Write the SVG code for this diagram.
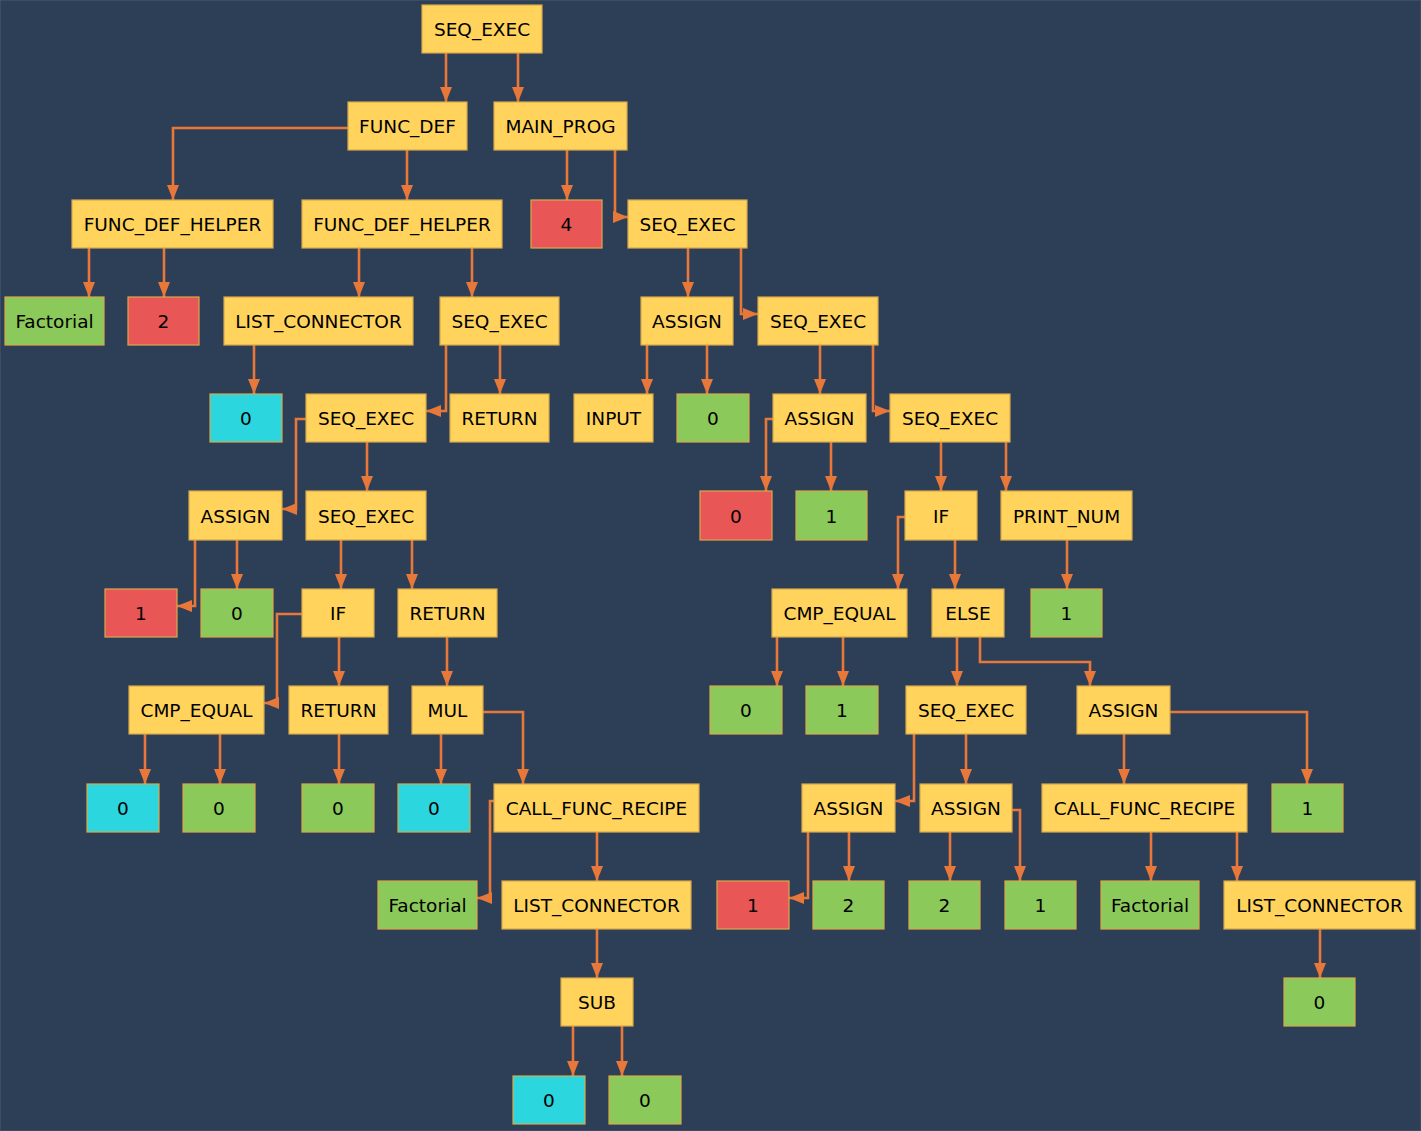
<svg xmlns="http://www.w3.org/2000/svg" width="1421" height="1131" viewBox="0 0 1421 1131">
<style>
.n rect{stroke:#d9a94a;stroke-width:1.2}
.y rect{fill:#ffd35c}
.g rect{fill:#8bc95a}
.r rect{fill:#e85656}
.c rect{fill:#2bd6de}
text{font-family:"DejaVu Sans","Liberation Sans",sans-serif;font-size:18.5px;fill:#000;text-anchor:middle;dominant-baseline:central}
#edges path{fill:none;stroke:#e8773a;stroke-width:2.6;marker-end:url(#ah)}
</style>
<defs>
<marker id="ah" markerUnits="userSpaceOnUse" markerWidth="15" markerHeight="13" viewBox="0 0 15 13" refX="15" refY="6.5" orient="auto">
<path d="M0,0.5 L15,6.5 L0,12.5 z" fill="#e8773a"/>
</marker>
</defs>
<rect x="0" y="0" width="1421" height="1131" fill="#2d3e57" stroke="#4a5a70" stroke-width="1"/>
<g id="edges">
<path d="M446,53 V102"/>
<path d="M518,53 V102"/>
<path d="M348,128 H173 V200"/>
<path d="M407,150 V200"/>
<path d="M567,150 V200"/>
<path d="M615,150 V217 H628"/>
<path d="M89,248 V297"/>
<path d="M164,248 V297"/>
<path d="M359,248 V297"/>
<path d="M472,248 V297"/>
<path d="M688,248 V297"/>
<path d="M741,248 V314 H758"/>
<path d="M254,345 V394"/>
<path d="M446,345 V411 H426"/>
<path d="M500,345 V394"/>
<path d="M647,345 V394"/>
<path d="M707,345 V394"/>
<path d="M820,345 V394"/>
<path d="M873,345 V411 H890"/>
<path d="M306,419 H296 V509 H282"/>
<path d="M367,442 V491"/>
<path d="M773,419 H766 V491"/>
<path d="M831,442 V491"/>
<path d="M941,442 V491"/>
<path d="M1006,442 V491"/>
<path d="M195,540 V606 H177"/>
<path d="M237,540 V589"/>
<path d="M341,540 V589"/>
<path d="M412,540 V589"/>
<path d="M905,517 H898 V589"/>
<path d="M955,540 V589"/>
<path d="M1067,540 V589"/>
<path d="M302,614 H277 V703 H264"/>
<path d="M339,637 V686"/>
<path d="M447,637 V686"/>
<path d="M777,637 V686"/>
<path d="M843,637 V686"/>
<path d="M957,637 V686"/>
<path d="M980,637 V662 H1090 V686"/>
<path d="M145,734 V784"/>
<path d="M220,734 V784"/>
<path d="M339,734 V784"/>
<path d="M441,734 V784"/>
<path d="M483,712 H523 V784"/>
<path d="M914,734 V801 H895"/>
<path d="M966,734 V784"/>
<path d="M1124,734 V784"/>
<path d="M1170,712 H1307 V784"/>
<path d="M494,801 H490 V898 H477"/>
<path d="M597,832 V881"/>
<path d="M808,832 V898 H789"/>
<path d="M849,832 V881"/>
<path d="M950,832 V881"/>
<path d="M1012,810 H1020 V881"/>
<path d="M1151,832 V881"/>
<path d="M1237,832 V881"/>
<path d="M597,929 V978"/>
<path d="M1320,929 V978"/>
<path d="M573,1026 V1076"/>
<path d="M622,1026 V1076"/>
</g>
<g id="n1" class="n y"><rect x="422" y="5" width="120" height="48"/><text x="482" y="29">SEQ_EXEC</text></g>
<g id="n2" class="n y"><rect x="348" y="102" width="119" height="48"/><text x="407.5" y="126">FUNC_DEF</text></g>
<g id="n3" class="n y"><rect x="494" y="102" width="133" height="48"/><text x="560.5" y="126">MAIN_PROG</text></g>
<g id="n4" class="n y"><rect x="72" y="200" width="201" height="48"/><text x="172.5" y="224">FUNC_DEF_HELPER</text></g>
<g id="n5" class="n y"><rect x="302" y="200" width="200" height="48"/><text x="402" y="224">FUNC_DEF_HELPER</text></g>
<g id="n6" class="n r"><rect x="531" y="200" width="71" height="48"/><text x="566.5" y="224">4</text></g>
<g id="n7" class="n y"><rect x="628" y="200" width="119" height="48"/><text x="687.5" y="224">SEQ_EXEC</text></g>
<g id="n8" class="n g"><rect x="5" y="297" width="99" height="48"/><text x="54.5" y="321">Factorial</text></g>
<g id="n9" class="n r"><rect x="128" y="297" width="71" height="48"/><text x="163.5" y="321">2</text></g>
<g id="n10" class="n y"><rect x="224" y="297" width="189" height="48"/><text x="318.5" y="321">LIST_CONNECTOR</text></g>
<g id="n11" class="n y"><rect x="440" y="297" width="119" height="48"/><text x="499.5" y="321">SEQ_EXEC</text></g>
<g id="n12" class="n y"><rect x="641" y="297" width="92" height="48"/><text x="687" y="321">ASSIGN</text></g>
<g id="n13" class="n y"><rect x="758" y="297" width="120" height="48"/><text x="818" y="321">SEQ_EXEC</text></g>
<g id="n14" class="n c"><rect x="210" y="394" width="72" height="48"/><text x="246" y="418">0</text></g>
<g id="n15" class="n y"><rect x="306" y="394" width="120" height="48"/><text x="366" y="418">SEQ_EXEC</text></g>
<g id="n16" class="n y"><rect x="450" y="394" width="99" height="48"/><text x="499.5" y="418">RETURN</text></g>
<g id="n17" class="n y"><rect x="574" y="394" width="79" height="48"/><text x="613.5" y="418">INPUT</text></g>
<g id="n18" class="n g"><rect x="677" y="394" width="72" height="48"/><text x="713" y="418">0</text></g>
<g id="n19" class="n y"><rect x="773" y="394" width="93" height="48"/><text x="819.5" y="418">ASSIGN</text></g>
<g id="n20" class="n y"><rect x="890" y="394" width="120" height="48"/><text x="950" y="418">SEQ_EXEC</text></g>
<g id="n21" class="n y"><rect x="189" y="491" width="93" height="49"/><text x="235.5" y="516">ASSIGN</text></g>
<g id="n22" class="n y"><rect x="306" y="491" width="120" height="49"/><text x="366" y="516">SEQ_EXEC</text></g>
<g id="n23" class="n r"><rect x="700" y="491" width="72" height="49"/><text x="736" y="516">0</text></g>
<g id="n24" class="n g"><rect x="796" y="491" width="71" height="49"/><text x="831.5" y="516">1</text></g>
<g id="n25" class="n y"><rect x="905" y="491" width="72" height="49"/><text x="941" y="516">IF</text></g>
<g id="n26" class="n y"><rect x="1001" y="491" width="131" height="49"/><text x="1066.5" y="516">PRINT_NUM</text></g>
<g id="n27" class="n r"><rect x="105" y="589" width="72" height="48"/><text x="141" y="613">1</text></g>
<g id="n28" class="n g"><rect x="201" y="589" width="72" height="48"/><text x="237" y="613">0</text></g>
<g id="n29" class="n y"><rect x="302" y="589" width="72" height="48"/><text x="338" y="613">IF</text></g>
<g id="n30" class="n y"><rect x="398" y="589" width="99" height="48"/><text x="447.5" y="613">RETURN</text></g>
<g id="n31" class="n y"><rect x="772" y="589" width="135" height="48"/><text x="839.5" y="613">CMP_EQUAL</text></g>
<g id="n32" class="n y"><rect x="932" y="589" width="72" height="48"/><text x="968" y="613">ELSE</text></g>
<g id="n33" class="n g"><rect x="1031" y="589" width="71" height="48"/><text x="1066.5" y="613">1</text></g>
<g id="n34" class="n y"><rect x="129" y="686" width="135" height="48"/><text x="196.5" y="710">CMP_EQUAL</text></g>
<g id="n35" class="n y"><rect x="289" y="686" width="99" height="48"/><text x="338.5" y="710">RETURN</text></g>
<g id="n36" class="n y"><rect x="412" y="686" width="71" height="48"/><text x="447.5" y="710">MUL</text></g>
<g id="n37" class="n g"><rect x="710" y="686" width="72" height="48"/><text x="746" y="710">0</text></g>
<g id="n38" class="n g"><rect x="806" y="686" width="72" height="48"/><text x="842" y="710">1</text></g>
<g id="n39" class="n y"><rect x="906" y="686" width="120" height="48"/><text x="966" y="710">SEQ_EXEC</text></g>
<g id="n40" class="n y"><rect x="1077" y="686" width="93" height="48"/><text x="1123.5" y="710">ASSIGN</text></g>
<g id="n41" class="n c"><rect x="87" y="784" width="72" height="48"/><text x="123" y="808">0</text></g>
<g id="n42" class="n g"><rect x="183" y="784" width="72" height="48"/><text x="219" y="808">0</text></g>
<g id="n43" class="n g"><rect x="302" y="784" width="72" height="48"/><text x="338" y="808">0</text></g>
<g id="n44" class="n c"><rect x="398" y="784" width="72" height="48"/><text x="434" y="808">0</text></g>
<g id="n45" class="n y"><rect x="494" y="784" width="205" height="48"/><text x="596.5" y="808">CALL_FUNC_RECIPE</text></g>
<g id="n46" class="n y"><rect x="802" y="784" width="93" height="48"/><text x="848.5" y="808">ASSIGN</text></g>
<g id="n47" class="n y"><rect x="920" y="784" width="92" height="48"/><text x="966" y="808">ASSIGN</text></g>
<g id="n48" class="n y"><rect x="1042" y="784" width="205" height="48"/><text x="1144.5" y="808">CALL_FUNC_RECIPE</text></g>
<g id="n49" class="n g"><rect x="1272" y="784" width="71" height="48"/><text x="1307.5" y="808">1</text></g>
<g id="n50" class="n g"><rect x="378" y="881" width="99" height="48"/><text x="427.5" y="905">Factorial</text></g>
<g id="n51" class="n y"><rect x="502" y="881" width="189" height="48"/><text x="596.5" y="905">LIST_CONNECTOR</text></g>
<g id="n52" class="n r"><rect x="717" y="881" width="72" height="48"/><text x="753" y="905">1</text></g>
<g id="n53" class="n g"><rect x="813" y="881" width="71" height="48"/><text x="848.5" y="905">2</text></g>
<g id="n54" class="n g"><rect x="909" y="881" width="71" height="48"/><text x="944.5" y="905">2</text></g>
<g id="n55" class="n g"><rect x="1005" y="881" width="71" height="48"/><text x="1040.5" y="905">1</text></g>
<g id="n56" class="n g"><rect x="1101" y="881" width="98" height="48"/><text x="1150" y="905">Factorial</text></g>
<g id="n57" class="n y"><rect x="1224" y="881" width="191" height="48"/><text x="1319.5" y="905">LIST_CONNECTOR</text></g>
<g id="n58" class="n y"><rect x="561" y="978" width="72" height="48"/><text x="597" y="1002">SUB</text></g>
<g id="n59" class="n g"><rect x="1284" y="978" width="71" height="48"/><text x="1319.5" y="1002">0</text></g>
<g id="n60" class="n c"><rect x="513" y="1076" width="72" height="48"/><text x="549" y="1100">0</text></g>
<g id="n61" class="n g"><rect x="609" y="1076" width="72" height="48"/><text x="645" y="1100">0</text></g>
</svg>
